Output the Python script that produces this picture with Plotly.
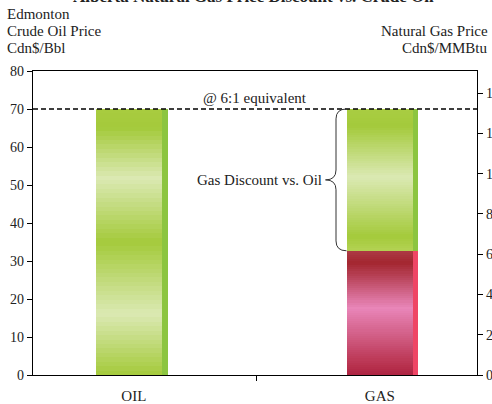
import plotly.graph_objects as go

# Prices
categories = ["OIL", "GAS"]
oil_price = 70.0     # Edmonton crude, Cdn$/Bbl
gas_price = 6.17     # natural gas, Cdn$/MMBtu
left_ticks = [0, 10, 20, 30, 40, 50, 60, 70, 80]
right_ticks = [0, 2, 4, 6, 8, 10, 12, 14]

Y_MAX = 80
Y2_MAX = 15.1
conv = Y_MAX / Y2_MAX          # $/MMBtu -> $/Bbl on the left scale
gas_equiv = gas_price * conv

FONT = "Liberation Serif"
INK = "#222222"


def hex_rgb(h):
    h = h.lstrip("#")
    return tuple(int(h[i:i + 2], 16) for i in (0, 2, 4))


def ramp(stops, f):
    for (f0, c0), (f1, c1) in zip(stops[:-1], stops[1:]):
        if f0 <= f <= f1:
            t = 0 if f1 == f0 else (f - f0) / (f1 - f0)
            a, b = hex_rgb(c0), hex_rgb(c1)
            r = [round(a[k] + (b[k] - a[k]) * t) for k in range(3)]
            return "rgb(%d,%d,%d)" % tuple(r)
    return stops[-1][1]


def shaded_bar(cat, lo, hi, stops, offset, width, yaxis="y", n=60):
    # each slice runs to the top so later slices overpaint earlier ones without seams
    step = (hi - lo) / n
    bases = [lo + i * step for i in range(n)]
    heights = [hi - b for b in bases]
    colors = [ramp(stops, (i + 0.5) / n) for i in range(n)]
    return go.Bar(
        x=[cat] * n, y=heights, base=bases, yaxis=yaxis,
        offset=offset, width=width,
        marker=dict(color=colors, line=dict(width=0)),
        hoverinfo="skip", showlegend=False,
    )


def side_strip(cat, lo, hi, color, offset, width, yaxis="y"):
    return go.Bar(
        x=[cat], y=[hi - lo], base=[lo], yaxis=yaxis,
        offset=offset, width=width,
        marker=dict(color=color, line=dict(width=0)),
        hoverinfo="skip", showlegend=False,
    )


G_D, G_L = "#a4ca3b", "#dbe9b3"
oil_stops = [(0, G_D), (0.23, G_L), (0.5, G_D), (0.74, G_L), (0.93, G_D), (1, "#a8cc40")]
disc_stops = [(0, "#b3d253"), (0.1, G_D), (0.52, G_L), (0.88, G_D), (1, "#a9cd42")]
gas_stops = [(0, "#ae2342"), (0.08, "#b8324e"), (0.54, "#e986b9"), (0.9, "#a3262f"), (1, "#ac3b45")]

fig = go.Figure()
fig.add_trace(shaded_bar("OIL", 0, oil_price, oil_stops, -0.155, 0.27))
fig.add_trace(side_strip("OIL", 0, oil_price, "#8cc540", 0.113, 0.026))
fig.add_trace(shaded_bar("GAS", 0, gas_price, gas_stops, -0.134, 0.27, yaxis="y2"))
fig.add_trace(side_strip("GAS", 0, gas_price, "#ef4565", 0.134, 0.022, yaxis="y2"))
fig.add_trace(shaded_bar("GAS", gas_equiv, oil_price, disc_stops, -0.134, 0.27))
fig.add_trace(side_strip("GAS", gas_equiv, oil_price, "#8cc540", 0.134, 0.022))

tick_font = dict(family=FONT, size=14, color=INK)

fig.update_layout(
    width=492, height=404,
    margin=dict(l=33, r=15, t=71, b=29, autoexpand=False),
    paper_bgcolor="white", plot_bgcolor="white",
    barmode="overlay", bargap=0,
    font=dict(family=FONT, size=14, color=INK),
    xaxis=dict(
        type="category", categoryorder="array", categoryarray=categories,
        range=[-0.41, 1.395], tickson="boundaries", ticks="outside", ticklen=5,
        tickcolor="black", showline=True, linecolor="black", linewidth=1.2,
        mirror=True, showgrid=False, tickfont=dict(family=FONT, size=15, color=INK),
        ticklabelstandoff=7, automargin=False,
    ),
    yaxis=dict(
        range=[0, Y_MAX], tickvals=left_ticks, ticks="outside", ticklen=5,
        tickcolor="black", showline=True, linecolor="black", linewidth=1.3,
        showgrid=False, zeroline=False, tickfont=tick_font, automargin=False,
    ),
    yaxis2=dict(
        range=[0, Y2_MAX], tickvals=right_ticks, overlaying="y", side="right",
        ticks="outside", ticklen=5, tickcolor="black", showline=True,
        linecolor="black", linewidth=1.3, showgrid=False, zeroline=False,
        tickfont=tick_font, automargin=False,
    ),
)

# 6:1 energy-equivalence line
fig.add_shape(type="line", xref="paper", x0=0, x1=1, yref="y", y0=oil_price, y1=oil_price,
              line=dict(color="black", width=1.5, dash="5px,3px"))
fig.add_annotation(text="@ 6:1 equivalent", xref="paper", x=0.5, yref="y", y=oil_price,
                   yanchor="bottom", yshift=1, showarrow=False,
                   font=dict(family=FONT, size=15, color=INK))

# curly brace spanning the gas discount
px = lambda p: (p - 33) / 444
x_end, x_mid, x_tip = px(346.5), px(336), px(325.5)
r = 2.6
top, bot = oil_price, gas_equiv
mid = (top + bot) / 2
brace = (
    f"M {x_end},{top} Q {x_mid},{top} {x_mid},{top - r} "
    f"L {x_mid},{mid + r} Q {x_mid},{mid} {x_tip},{mid} "
    f"Q {x_mid},{mid} {x_mid},{mid - r} "
    f"L {x_mid},{bot + r} Q {x_mid},{bot} {x_end},{bot}"
)
fig.add_shape(type="path", xref="paper", yref="y", path=brace,
              line=dict(color="#333333", width=1))
fig.add_annotation(text="Gas Discount vs. Oil", xref="paper", x=px(324), yref="y", y=mid,
                   xanchor="right", yanchor="middle", showarrow=False,
                   font=dict(family=FONT, size=15, color=INK))

# headers
def header(text, x, y, anchor):
    fig.add_annotation(text=text, xref="paper", x=x, yref="paper", y=y,
                       xanchor=anchor, yanchor="middle", showarrow=False,
                       font=dict(family=FONT, size=15, color=INK))

py = lambda p: (375 - p) / 304
header("Edmonton", px(5), py(14), "left")
header("Crude Oil Price", px(5), py(31), "left")
header("Cdn$/Bbl", px(5), py(48), "left")
header("Natural Gas Price", px(490), py(31), "right")
header("Cdn$/MMBtu", px(490), py(48), "right")

fig.add_annotation(text="<b>Alberta Natural Gas Price Discount vs. Crude Oil</b>", xref="paper",
                   x=px(253), yref="paper", y=py(7.5), xanchor="center", yanchor="bottom",
                   showarrow=False, font=dict(family=FONT, size=17, color=INK))

fig.write_html("out.html")
